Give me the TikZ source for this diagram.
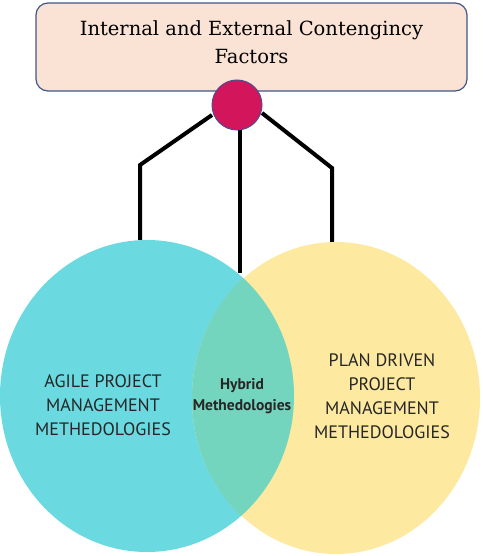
\documentclass[tikz,border=0pt]{standalone}
\usepackage{fontspec}
\usepackage{tikz}
\usetikzlibrary{shapes,positioning}
\newfontfamily\labelfont{PT Sans}
\newfontfamily\factorfont{DejaVu Serif}
\definecolor{boxfill}{RGB}{250,227,213}
\definecolor{boxline}{RGB}{63,86,138}
\definecolor{hubfill}{RGB}{211,21,92}
\definecolor{hubline}{RGB}{75,79,143}
\definecolor{agilefill}{RGB}{107,217,224}
\definecolor{planfill}{RGB}{253,233,160}
\definecolor{lensfill}{RGB}{116,213,190}
\definecolor{textcol}{RGB}{38,38,38}
\tikzset{
  basic/.style  = {align=center, text=textcol, inner sep=0pt},
  factor/.style = {draw=boxline, fill=boxfill, line width=1.2pt, rounded corners=12pt,
                   rectangle, minimum width=431pt, minimum height=88pt},
  hub/.style    = {circle, draw=hubline, fill=hubfill, line width=1pt, minimum size=50pt},
  method/.style = {ellipse, minimum width=#1, minimum height=312pt, inner sep=0pt},
  label/.style  = {basic, font=\labelfont\fontsize{18}{24}\selectfont},
  link/.style   = {line width=4pt, black}
}
\begin{document}
\begin{tikzpicture}[x=1pt,y=-1pt]
\useasboundingbox (0,0) rectangle (482,556);
\node[factor] (factors) at (251.5,47) {};
\node[basic, font=\factorfont\fontsize{19.5}{28}\selectfont, text=black] (factortext) at (251.5,42)
  {Internal and External Contengincy\\Factors};
\node[method=294pt, fill=agilefill] (agile) at (147,396) {};
\node[method=288pt, fill=planfill] (plan) at (336,398) {};
\begin{scope}
  \clip (147,396) ellipse (147 and 156);
  \fill[lensfill] (336,398) ellipse (144 and 157);
\end{scope}
\coordinate (l1) at (140,165);
\coordinate (r1) at (332,168);
\coordinate (mid) at (240,273);
\draw[link] (240,128) -- (mid);
\draw[link] (212,115) -- (l1) -- (agile.north -| l1);
\draw[link] (262,113) -- (r1) -- (plan.north -| r1);
\node[hub] (hub) at (237,105) {};
\node[label] (agiletext) at (103,405) {AGILE PROJECT\\MANAGEMENT\\METHEDOLOGIES};
\node[label] (plantext) at (382,396) {PLAN DRIVEN\\PROJECT\\MANAGEMENT\\METHEDOLOGIES};
\node[basic, font=\labelfont\bfseries\fontsize{15.5}{21}\selectfont] (hybrid) at (242,396) {Hybrid\\Methedologies};
\end{tikzpicture}
\end{document}
